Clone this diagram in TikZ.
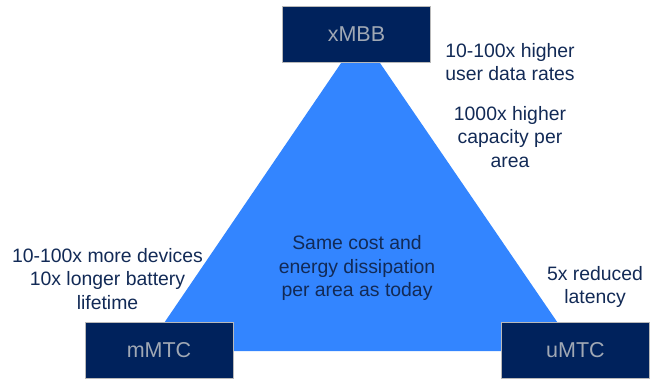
\documentclass[tikz,border=0pt]{standalone}
\usepackage{fontspec}
\setmainfont{Liberation Sans}
\definecolor{trifill}{RGB}{51,133,255}
\definecolor{boxfill}{RGB}{0,34,92}
\definecolor{boxtext}{RGB}{160,168,180}
\definecolor{labeltext}{RGB}{18,42,86}
\begin{document}
\begin{tikzpicture}[x=1pt,y=1pt,
  corner/.style={draw=gray!55, line width=0.8pt, fill=boxfill, text=boxtext,
     minimum width=148pt, minimum height=56pt, inner sep=0pt,
     font=\fontsize{21.5}{26}\selectfont},
  label/.style={text=labeltext, align=center, inner sep=0pt,
     font=\fontsize{19.4}{23.5}\selectfont}]
\useasboundingbox (0,0) rectangle (660,378);
% triangle
\coordinate (ta) at (360.5,343.5);
\coordinate (tl) at (145,27);
\coordinate (tr) at (577,27);
\fill[trifill] (tl) -- (tr) -- (ta) -- cycle;
% corner boxes
\node[corner] (xmbb) at (356.5,343.5) {xMBB};
\node[corner] (mmtc) at (159,27.5) {mMTC};
\node[corner] (umtc) at (575.5,27.5) {uMTC};
% labels
\node[label] (rates) at (510,316) {10-100x higher\\user data rates};
\node[label] (cap) at (510,241) {1000x higher\\capacity per\\area};
\node[label] (dev) at (107.5,99) {10-100x more devices\\10x longer battery\\lifetime};
\node[label] (cost) at (357,110) {Same cost and\\energy dissipation\\per area as today};
\node[label] (lat) at (595,91) {5x reduced\\latency};
\end{tikzpicture}
\end{document}
